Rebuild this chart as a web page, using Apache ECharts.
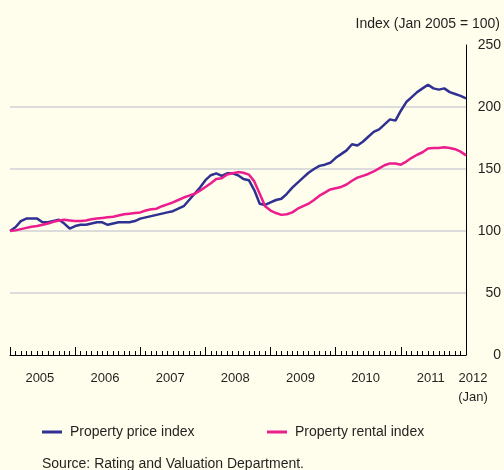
<!DOCTYPE html>
<html>
<head>
<meta charset="utf-8">
<script src="https://cdn.jsdelivr.net/npm/echarts@6/dist/echarts.min.js"></script>
<style>
  html, body { margin: 0; padding: 0; background: #fffdeb; }
  #chart { width: 504px; height: 470px; }
</style>
</head>
<body>
<div id="chart"></div>
<script>
// monthly, Jan 2005 .. Jan 2012
const months = [];
for (let y = 2005; y <= 2012; y++) {
  for (let m = 1; m <= 12; m++) {
    if (y === 2012 && m > 1) break;
    months.push(y + '-' + (m < 10 ? '0' + m : m));
  }
}

const priceIndex = [
  100, 103, 108, 110, 110, 110, 107, 107, 108, 109, 106, 102,
  104, 105, 105, 106, 107, 107, 105, 106, 107, 107, 107, 108,
  110, 111, 112, 113, 114, 115, 116, 118, 120, 125, 130, 135,
  141, 145, 146.5, 144.5, 146.5, 146.5, 145, 142, 141, 133, 122, 121,
  123, 125, 126, 130, 135, 139, 143, 147, 150, 152.5, 153.5, 155,
  159, 162, 165, 170, 169, 172, 176, 180, 182, 186, 190, 189,
  197, 204, 208, 212, 215, 218, 215, 214, 215, 212, 210.5, 209,
  207
];

const rentalIndex = [
  100, 100.5, 101.5, 102.5, 103.5, 104, 105, 106, 107.5, 108.5, 109, 108.5,
  108, 108, 108.5, 109.5, 110, 110.5, 111, 111.5, 112.5, 113.5, 114, 114.5,
  115, 116.5, 117.5, 118, 120, 121.5, 123, 125, 127, 128.5, 130, 132.5,
  135.5, 138.5, 142, 142.5, 145.5, 146.5, 147.5, 147, 145.5, 140, 130, 120,
  116.5, 114.5, 113, 113.5, 115, 118, 120, 122, 125, 128.5, 131, 133.5,
  134.5, 135.5, 137.5, 140.5, 143, 144.5, 146, 148, 150.5, 153, 154.5, 154.5,
  153.5, 156, 159, 161.5, 163.5, 166.5, 167, 167, 167.5, 167, 166, 164,
  161
];

const yearLabels = ['2005', '2006', '2007', '2008', '2009', '2010', '2011'];
const yearLabelIndex = [6, 18, 30, 42, 54, 66, 78];
const endLabel = ['2012', '(Jan)'];
const endLabelIndex = 84;

const textColor = '#231f20';
const fontFamily = 'Liberation Sans, Arial, sans-serif';

const chart = echarts.init(document.getElementById('chart'));

const option = {
  backgroundColor: '#fffdeb',
  animation: false,
  textStyle: { fontFamily: fontFamily, color: textColor },
  title: [
    {
      text: 'Index (Jan 2005 = 100)',
      right: -1,
      top: 12,
      textStyle: { fontSize: 14, fontWeight: 'normal', color: textColor, fontFamily: fontFamily }
    },
    {
      text: 'Source: Rating and Valuation Department.',
      left: 37,
      top: 452,
      textStyle: { fontSize: 14, fontWeight: 'normal', color: textColor, fontFamily: fontFamily }
    }
  ],
  legend: [
    {
      data: ['Property price index'],
      left: 37,
      top: 420,
      icon: 'rect',
      itemWidth: 20,
      itemHeight: 3,
      textStyle: { fontSize: 14, color: textColor, padding: [0, 0, 0, 3] }
    },
    {
      data: ['Property rental index'],
      left: 262,
      top: 420,
      icon: 'rect',
      itemWidth: 20,
      itemHeight: 3,
      textStyle: { fontSize: 14, color: textColor, padding: [0, 0, 0, 3] }
    }
  ],
  grid: {
    left: 10,
    right: 37,
    top: 45,
    bottom: 115
  },
  xAxis: [
    {
      type: 'category',
      position: 'bottom',
      data: months,
      boundaryGap: false,
      axisLine: { lineStyle: { color: '#000', width: 1 } },
      axisTick: { inside: true, length: 4, interval: 0, lineStyle: { color: '#000', width: 1 } },
      axisLabel: { show: false },
      splitLine: { show: false }
    },
    {
      type: 'category',
      position: 'bottom',
      data: months,
      boundaryGap: false,
      axisLine: { show: false },
      axisTick: {
        inside: true,
        length: 8,
        interval: function (index) { return index % 12 === 0; },
        lineStyle: { color: '#000', width: 1 }
      },
      axisLabel: {
        margin: 17,
        fontSize: 13,
        color: textColor,
        interval: function (index) { return yearLabelIndex.indexOf(index) >= 0; },
        formatter: function (value, index) {
          const k = yearLabelIndex.indexOf(index);
          return k < 0 ? '' : '{a|' + yearLabels[k] + '}';
        },
        rich: {
          a: { fontSize: 13, color: textColor, padding: [0, 5.4, 0, 0] }
        }
      },
      splitLine: { show: false }
    },
    {
      type: 'category',
      position: 'bottom',
      data: months,
      boundaryGap: false,
      axisLine: { show: false },
      axisTick: { show: false },
      axisLabel: {
        margin: 14,
        fontSize: 13,
        color: textColor,
        showMaxLabel: true,
        interval: function (index) { return index === endLabelIndex; },
        formatter: function (value, index) {
          if (index !== endLabelIndex) return '';
          return endLabel.map(p => '{b|' + p + '}').join('\n');
        },
        rich: {
          b: { fontSize: 13, color: textColor, padding: [0, 0, 0, 14], lineHeight: 19 }
        }
      },
      splitLine: { show: false }
    }
  ],
  yAxis: {
    type: 'value',
    position: 'right',
    min: 0,
    max: 250,
    interval: 50,
    axisLine: { show: true, lineStyle: { color: '#000', width: 1 } },
    axisTick: { show: false },
    axisLabel: {
      fontSize: 14,
      color: textColor,
      align: 'right',
      margin: 35
    },
    splitLine: {
      show: true,
      showMinLine: false,
      showMaxLine: false,
      lineStyle: { color: '#dcdcdc', width: 2 }
    }
  },
  series: [
    {
      name: 'Property price index',
      type: 'line',
      data: priceIndex,
      showSymbol: false,
      color: '#2e3192',
      lineStyle: { width: 2.5, color: '#2e3192' }
    },
    {
      name: 'Property rental index',
      type: 'line',
      data: rentalIndex,
      showSymbol: false,
      color: '#ec1d8c',
      lineStyle: { width: 2.5, color: '#ec1d8c' }
    }
  ]
};

chart.setOption(option);
</script>
</body>
</html>
